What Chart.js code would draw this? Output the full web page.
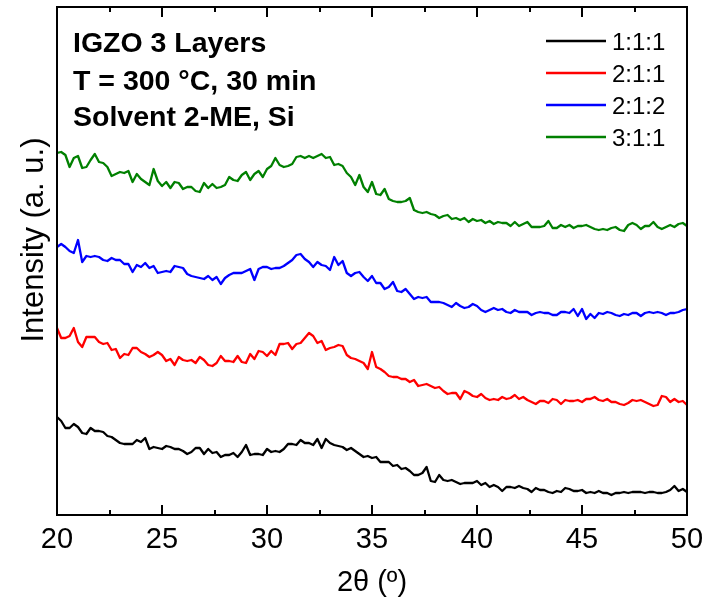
<!DOCTYPE html>
<html>
<head>
<meta charset="utf-8">
<script src="https://cdn.jsdelivr.net/npm/chart.js@4.4.0/dist/chart.umd.min.js"></script>
<style>
  html, body { margin: 0; padding: 0; background: #ffffff; }
  #wrap { width: 707px; height: 604px; }
</style>
</head>
<body>
<div id="wrap"><canvas id="xrd" width="707" height="604"></canvas></div>
<script>
// Scan angles, 2θ in degrees
const twoTheta = [
  20.0, 20.2, 20.4, 20.6, 20.8, 21.0, 21.2, 21.4, 21.6, 21.8,
  22.0, 22.2, 22.4, 22.6, 22.8, 23.0, 23.2, 23.4, 23.6, 23.8,
  24.0, 24.2, 24.4, 24.6, 24.8, 25.0, 25.2, 25.4, 25.6, 25.8,
  26.0, 26.2, 26.4, 26.6, 26.8, 27.0, 27.2, 27.4, 27.6, 27.8,
  28.0, 28.2, 28.4, 28.6, 28.8, 29.0, 29.2, 29.4, 29.6, 29.8,
  30.0, 30.2, 30.4, 30.6, 30.8, 31.0, 31.2, 31.4, 31.6, 31.8,
  32.0, 32.2, 32.4, 32.6, 32.8, 33.0, 33.2, 33.4, 33.6, 33.8,
  34.0, 34.2, 34.4, 34.6, 34.8,
  35.0, 35.2, 35.4, 35.6, 35.8, 36.0, 36.2, 36.4, 36.6, 36.8,
  37.0, 37.2, 37.4, 37.6, 37.8, 38.0, 38.2, 38.4, 38.6, 38.8,
  39.0, 39.2, 39.4, 39.6, 39.8, 40.0, 40.2, 40.4, 40.6, 40.8,
  41.0, 41.2, 41.4, 41.6, 41.8, 42.0, 42.2, 42.4, 42.6, 42.8,
  43.0, 43.2, 43.4, 43.6, 43.8, 44.0, 44.2, 44.4, 44.6, 44.8,
  45.0, 45.2, 45.4, 45.6, 45.8, 46.0, 46.2, 46.4, 46.6, 46.8,
  47.0, 47.2, 47.4, 47.6, 47.8, 48.0, 48.2, 48.4, 48.6, 48.8,
  49.0, 49.2, 49.4, 49.6, 49.8, 50.0
];

// Intensities (a. u., curves offset vertically for clarity)
const int111 = [
  98, 94, 87, 87, 91, 88, 82, 81, 87, 84,
  84, 83, 79, 78, 75, 72, 71, 71, 71, 75,
  73, 77, 66, 68, 67, 66, 69, 68, 66, 66,
  64, 61, 63, 67, 67, 61, 66, 62, 63, 58,
  60, 60, 62, 58, 63, 70, 60, 61, 61, 60,
  66, 63, 64, 63, 66, 71, 71, 70, 75, 72,
  72, 70, 76, 67, 76, 72, 70, 69, 68, 65,
  67, 64, 61, 58, 59,
  57, 58, 53, 53, 53, 49, 50, 46, 47, 44,
  40, 40, 42, 48, 34, 33, 40, 35, 34, 35,
  33, 31, 32, 32, 32, 34, 30, 32, 28, 30,
  28, 24, 28, 28, 27, 29, 27, 26, 23, 27,
  25, 25, 23, 22, 24, 23, 27, 26, 24, 24,
  25, 22, 23, 22, 24, 22, 22, 20, 22, 22,
  23, 22, 23, 23, 23, 22, 23, 23, 22, 22,
  23, 25, 29, 24, 26, 23
];

const int211 = [
  187, 177, 177, 179, 187, 173, 168, 178, 178, 178,
  173, 171, 172, 165, 166, 157, 161, 160, 167, 167,
  163, 161, 158, 160, 163, 160, 154, 156, 150, 158,
  155, 154, 155, 152, 158, 155, 150, 149, 152, 159,
  154, 154, 153, 159, 153, 152, 161, 156, 164, 163,
  159, 164, 160, 171, 171, 172, 166, 171, 172, 177,
  182, 179, 172, 174, 165, 167, 168, 170, 169, 160,
  157, 156, 154, 152, 146,
  163, 148, 146, 143, 139, 138, 138, 136, 136, 133,
  135, 129, 130, 131, 129, 127, 128, 124, 121, 122,
  122, 116, 124, 122, 119, 118, 121, 117, 115, 116,
  115, 118, 116, 117, 120, 116, 118, 115, 113, 111,
  114, 114, 112, 116, 115, 111, 115, 114, 114, 115,
  113, 116, 116, 118, 115, 114, 116, 113, 113, 111,
  110, 112, 115, 114, 115, 113, 111, 109, 110, 119,
  118, 113, 116, 113, 114, 110
];

const int212 = [
  268, 271, 268, 264, 262, 275, 253, 259, 258, 259,
  258, 255, 254, 257, 255, 255, 251, 251, 243, 250,
  248, 252, 247, 249, 242, 243, 244, 243, 249, 248,
  247, 241, 239, 238, 237, 236, 239, 235, 238, 231,
  237, 240, 242, 242, 242, 244, 246, 235, 246, 248,
  248, 246, 247, 247, 249, 252, 255, 260, 261, 256,
  253, 248, 253, 250, 249, 245, 258, 250, 254, 242,
  239, 242, 243, 238, 234,
  239, 232, 232, 226, 228, 233, 224, 223, 226, 221,
  216, 218, 217, 218, 213, 213, 213, 212, 210, 208,
  212, 209, 207, 208, 211, 209, 205, 203, 205, 207,
  205, 206, 203, 202, 205, 203, 203, 203, 200, 202,
  203, 202, 202, 200, 200, 203, 203, 202, 206, 199,
  206, 196, 201, 197, 202, 201, 203, 202, 200, 199,
  201, 200, 202, 202, 199, 202, 203, 202, 203, 202,
  200, 202, 202, 203, 205, 206
];

const int311 = [
  362, 363, 360, 348, 357, 359, 347, 348, 355, 361,
  353, 352, 348, 339, 341, 343, 342, 344, 333, 341,
  336, 333, 330, 346, 334, 329, 333, 327, 333, 332,
  326, 328, 328, 324, 323, 332, 327, 331, 327, 328,
  330, 338, 335, 334, 340, 343, 335, 341, 344, 338,
  346, 349, 357, 350, 348, 349, 351, 358, 359, 357,
  359, 357, 359, 361, 357, 358, 350, 351, 349, 342,
  338, 330, 340, 328, 323,
  333, 321, 320, 326, 316, 314, 313, 313, 314, 317,
  305, 303, 302, 303, 301, 300, 297, 299, 300, 296,
  297, 295, 297, 293, 296, 294, 295, 292, 294, 291,
  293, 292, 292, 289, 293, 289, 291, 293, 288, 288,
  288, 289, 294, 287, 287, 290, 288, 290, 287, 289,
  289, 290, 288, 286, 285, 286, 285, 287, 288, 285,
  284, 290, 292, 290, 286, 289, 289, 293, 288, 286,
  288, 290, 288, 291, 292, 289
];

const seriesNames = ['1:1:1', '2:1:1', '2:1:2', '3:1:1'];
const seriesValues = [int111, int211, int212, int311];
const seriesColors = ['#000000', '#ff0000', '#0000ff', '#008000'];

const xTickValues = [20, 25, 30, 35, 40, 45, 50];
const xMinorValues = [22.5, 27.5, 32.5, 37.5, 42.5, 47.5];
const noteLines = ['IGZO 3 Layers', 'T = 300 °C, 30 min', 'Solvent 2-ME, Si'];
const xTitle = '2θ (º)';
const yTitle = 'Intensity (a. u.)';

const FONT = "'Liberation Sans', Arial, Helvetica, sans-serif";

// Frame with inward ticks, axis titles, sample note and legend
const decorations = {
  id: 'decorations',
  afterDraw(chart) {
    const ctx = chart.ctx;
    const a = chart.chartArea;
    const xs = chart.scales.x;
    ctx.save();
    ctx.strokeStyle = '#000';
    ctx.lineWidth = 2;
    ctx.strokeRect(a.left, a.top, a.right - a.left, a.bottom - a.top);

    const drawTick = (v, len) => {
      const px = Math.round(xs.getPixelForValue(v));
      ctx.beginPath();
      ctx.moveTo(px, a.bottom);
      ctx.lineTo(px, a.bottom - len);
      ctx.moveTo(px, a.top);
      ctx.lineTo(px, a.top + len);
      ctx.stroke();
    };
    xTickValues.forEach(v => drawTick(v, 10));
    xMinorValues.forEach(v => drawTick(v, 5));

    ctx.fillStyle = '#000';
    // x title
    ctx.font = '29px ' + FONT;
    ctx.textAlign = 'center';
    ctx.textBaseline = 'alphabetic';
    ctx.fillText(xTitle, (a.left + a.right) / 2, 591);

    // y title
    ctx.save();
    ctx.translate(43, 240);
    ctx.rotate(-Math.PI / 2);
    ctx.font = '31px ' + FONT;
    ctx.textAlign = 'center';
    ctx.fillText(yTitle, 0, 0);
    ctx.restore();

    // sample note
    ctx.font = 'bold 28.5px ' + FONT;
    ctx.textAlign = 'left';
    const noteBase = [52, 90, 126];
    noteLines.forEach((t, i) => ctx.fillText(t, 73, noteBase[i]));

    // legend
    ctx.font = '24px ' + FONT;
    chart.data.datasets.forEach((ds, i) => {
      const y = 41 + i * 32;
      ctx.strokeStyle = ds.borderColor;
      ctx.lineWidth = 2.5;
      ctx.beginPath();
      ctx.moveTo(546, y);
      ctx.lineTo(606, y);
      ctx.stroke();
      ctx.fillStyle = '#000';
      ctx.fillText(ds.label, 612, y + 9);
    });
    ctx.restore();
  }
};

new Chart(document.getElementById('xrd').getContext('2d'), {
  type: 'line',
  data: {
    datasets: seriesValues.map((vals, i) => ({
      label: seriesNames[i],
      data: twoTheta.map((t, j) => ({ x: t, y: vals[j] })),
      borderColor: seriesColors[i],
      borderWidth: 2.3,
      borderJoinStyle: 'round',
      pointRadius: 0,
      tension: 0,
      fill: false
    }))
  },
  options: {
    responsive: false,
    animation: false,
    devicePixelRatio: 1,
    layout: { padding: { left: 57, right: 20, top: 7, bottom: 0 } },
    plugins: { legend: { display: false }, tooltip: { enabled: false } },
    scales: {
      x: {
        type: 'linear',
        min: 20,
        max: 50,
        afterBuildTicks: s => { s.ticks = xTickValues.map(v => ({ value: v })); },
        afterFit: s => { s.height = 89; s.paddingLeft = 0; s.paddingRight = 0; },
        grid: { display: false, drawTicks: false },
        border: { display: false },
        ticks: {
          font: { family: FONT, size: 29 },
          color: '#000',
          padding: 8,
          maxRotation: 0,
          autoSkip: false
        }
      },
      y: { display: false, min: 0, max: 508 }
    }
  },
  plugins: [decorations]
});
</script>
</body>
</html>
